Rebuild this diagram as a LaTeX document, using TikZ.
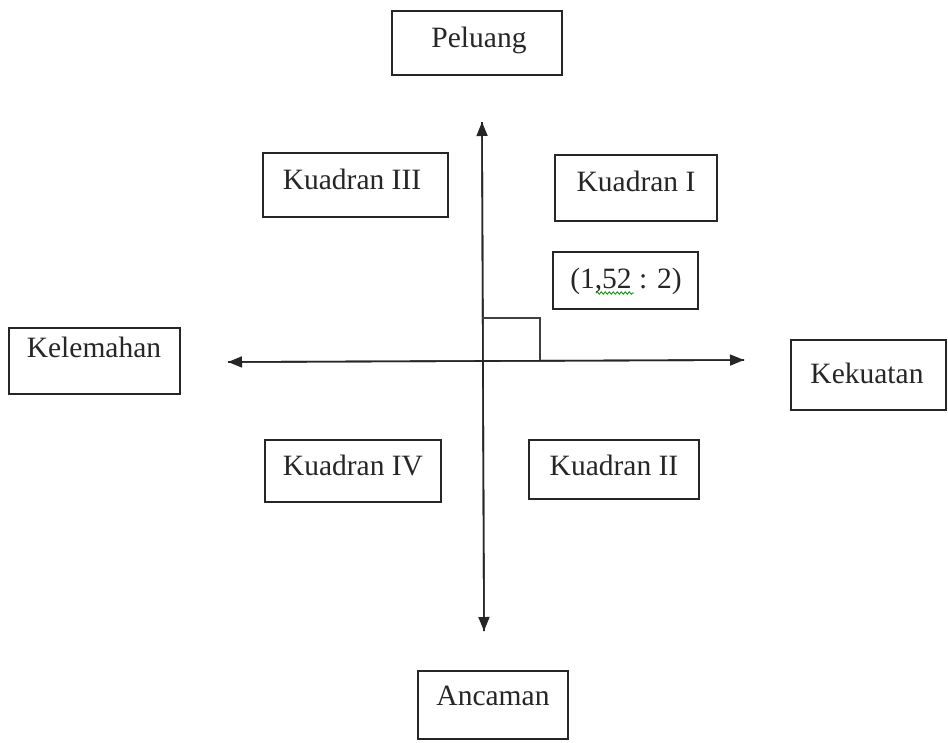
\documentclass[tikz,border=0pt]{standalone}
\usepackage{fontspec}
\setmainfont{Liberation Serif}
\usetikzlibrary{arrows.meta,decorations.pathmorphing}
\begin{document}
\begin{tikzpicture}[x=1pt,y=-1pt,
  boxshape/.style={draw=black!85,line width=1.4pt,inner sep=0pt,rectangle},
  lbl/.style={anchor=base,inner sep=0pt,font=\fontsize{29.5}{32}\selectfont,text=black!85},
  axis/.style={line width=1.6pt,draw=black!85,-{Triangle[length=14pt,width=11pt]}},
  marker/.style={line width=1.4pt,draw=black!75}]
\useasboundingbox[fill=white] (0,0) rectangle (948,742);
% boxes: (x1,y1) to (x2,y2)
\newcommand{\mybox}[6]{%
  \node[boxshape,minimum width={#3-#1},minimum height={#4-#2}] (#5) at ({(#1+#3)/2},{(#2+#4)/2}) {};
}
\mybox{392}{11}{562}{75}{peluang}{}
\mybox{263}{153}{448}{217}{k3}{}
\mybox{555}{155}{717}{221}{k1}{}
\mybox{553}{252}{698}{309}{coord}{}
\mybox{9}{328}{180}{394}{kelemahan}{}
\mybox{791}{340}{946}{410}{kekuatan}{}
\mybox{265}{440}{441}{502}{k4}{}
\mybox{529}{440}{699}{499}{k2}{}
\mybox{418}{671}{568}{739}{ancaman}{}
% labels
\node[lbl] (tpeluang) at (479,47) {Peluang};
\node[lbl] (tk3) at (352,189) {Kuadran III};
\node[lbl] (tk1) at (636,191) {Kuadran I};
\node[lbl] (tcoord) at (626,288) {(1,52 : 2)};
\node[lbl] (tkelemahan) at (94,357) {Kelemahan};
\node[lbl] (tkekuatan) at (867,383) {Kekuatan};
\node[lbl] (tk4) at (353,475) {Kuadran IV};
\node[lbl] (tk2) at (614,475) {Kuadran II};
\node[lbl] (tancaman) at (493,705) {Ancaman};
% spell-check squiggle under 52
\draw[green!55!black,line width=0.8pt,decorate,decoration={snake,amplitude=1.2pt,segment length=4pt}] (596,293) -- (634,293);
% axes
\coordinate (o) at (482,361);
\coordinate (top) at (482,122);
\coordinate (bot) at (484,631);
\coordinate (left) at (228,362);
\coordinate (right) at (744,360);
\draw[axis] (bot) -- (top);
\draw[axis] (top) -- (bot);
\draw[axis] (right) -- (left);
\draw[axis] (left) -- (right);
% right-angle marker
\coordinate (m1) at (482,318);
\coordinate (m2) at (540,318);
\coordinate (m3) at (540,360);
\draw[marker] (m1) -- (m2) -- (m3);
\end{tikzpicture}
\end{document}
